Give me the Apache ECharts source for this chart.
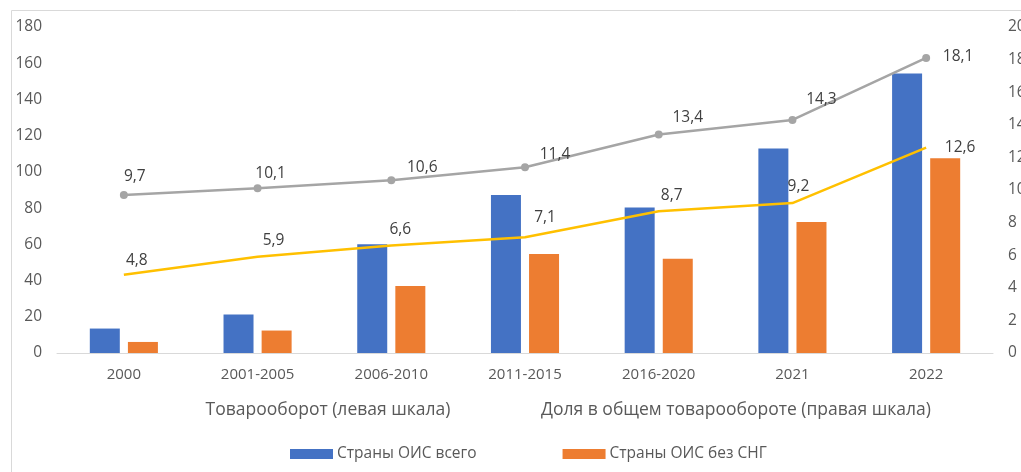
<!DOCTYPE html>
<html>
<head>
<meta charset="utf-8">
<script src="https://cdn.jsdelivr.net/npm/echarts@6/dist/echarts.min.js"></script>
<style>
html,body{margin:0;padding:0;background:#fff;}
#chart{width:1021px;height:472px;}
</style>
</head>
<body>
<div id="chart"></div>
<script>
// ---- data ----
const categories = ['2000', '2001-2005', '2006-2010', '2011-2015', '2016-2020', '2021', '2022'];
const oicTotal = [13.5, 21.2, 60.0, 87.3, 80.3, 112.9, 154.3];
const oicNoCis = [6.1, 12.4, 37.0, 54.7, 52.1, 72.3, 107.5];
const shareTotal = [9.7, 10.1, 10.6, 11.4, 13.4, 14.3, 18.1];
const shareNoCis = [4.8, 5.9, 6.6, 7.1, 8.7, 9.2, 12.6];
const seriesNames = ['Страны ОИС всего', 'Страны ОИС без СНГ', 'Доля ОИС всего', 'Доля ОИС без СНГ'];
const leftTicks = [0, 180, 20];
const rightTicks = [0, 20, 2];
const axisTitleLeft = 'Товарооборот (левая шкала)';
const axisTitleRight = 'Доля в общем товарообороте (правая шкала)';

// ---- layout (label offsets, not data) ----
const grayLabelOffsets = [[11,-18],[13,-15],[31,-13],[30,-13],[29,-17],[29,-20],[32,-1]];
const yellowLabelOffsets = [[13,-14],[16,-16],[9,-16],[20,-20],[13,-16],[6,-16],[34,0]];

const FONT = 'Open Sans';
const fmt = v => String(v).replace('.', ',');

function lineData(values, offsets) {
  return values.map((v, i) => ({
    value: v,
    label: { offset: offsets[i] }
  }));
}

const chart = echarts.init(document.getElementById('chart'), null, { renderer: 'canvas' });
chart.setOption({
  animation: false,
  textStyle: { fontFamily: FONT },
  grid: { left: 57, right: 28, top: 27, bottom: 119, containLabel: false, outerBoundsMode: 'none' },
  graphic: [{
    type: 'rect',
    shape: { x: 11.5, y: 10.5, width: 1100, height: 600 },
    style: { fill: 'none', stroke: '#D9D9D9', lineWidth: 1 },
    silent: true
  }, {
    type: 'text', x: 328, y: 410,
    style: { text: axisTitleLeft, fill: '#595959', font: '17.5px "' + FONT + '"', textAlign: 'center', textVerticalAlign: 'middle' }
  }, {
    type: 'text', x: 736, y: 410,
    style: { text: axisTitleRight, fill: '#595959', font: '17.5px "' + FONT + '"', textAlign: 'center', textVerticalAlign: 'middle' }
  }],
  legend: {
    data: [seriesNames[0], seriesNames[1]],
    left: 290, top: 446, padding: 0,
    itemWidth: 43, itemHeight: 10, itemGap: 86,
    icon: 'rect',
    textStyle: { color: '#595959', fontSize: 15.5, fontFamily: FONT, padding: [0, 0, 0, -1] }
  },
  xAxis: {
    type: 'category',
    data: categories,
    axisLine: { show: true, lineStyle: { color: '#D9D9D9', width: 1 } },
    axisTick: { show: false },
    axisLabel: { color: '#595959', fontSize: 15, margin: 14, fontFamily: FONT },
    splitLine: { show: false }
  },
  yAxis: [{
    type: 'value', min: leftTicks[0], max: leftTicks[1], interval: leftTicks[2],
    axisLine: { show: false }, axisTick: { show: false }, splitLine: { show: false },
    axisLabel: { color: '#595959', fontSize: 15.5, margin: 15, fontFamily: FONT }
  }, {
    type: 'value', min: rightTicks[0], max: rightTicks[1], interval: rightTicks[2],
    axisLine: { show: false }, axisTick: { show: false }, splitLine: { show: false },
    axisLabel: { color: '#595959', fontSize: 15.5, margin: 15, fontFamily: FONT }
  }],
  series: [{
    name: seriesNames[0], type: 'bar', yAxisIndex: 0, data: oicTotal,
    barWidth: 30, barGap: '27%',
    itemStyle: { color: '#4472C4' }
  }, {
    name: seriesNames[1], type: 'bar', yAxisIndex: 0, data: oicNoCis,
    barWidth: 30, barGap: '27%',
    itemStyle: { color: '#ED7D31' }
  }, {
    name: seriesNames[2], type: 'line', yAxisIndex: 1,
    data: lineData(shareTotal, grayLabelOffsets),
    symbol: 'circle', symbolSize: 8,
    lineStyle: { color: '#A5A5A5', width: 2.5 },
    itemStyle: { color: '#A5A5A5' },
    label: { show: true, position: 'inside', color: '#404040', fontSize: 15.5, fontFamily: FONT,
      formatter: p => fmt(p.value) },
    z: 5
  }, {
    name: seriesNames[3], type: 'line', yAxisIndex: 1,
    data: lineData(shareNoCis, yellowLabelOffsets),
    symbol: 'circle', symbolSize: 0,
    lineStyle: { color: '#FFC000', width: 2.5 },
    itemStyle: { color: '#FFC000' },
    label: { show: true, position: 'inside', color: '#404040', fontSize: 15.5, fontFamily: FONT,
      formatter: p => fmt(p.value) },
    z: 5
  }]
});
</script>
</body>
</html>
